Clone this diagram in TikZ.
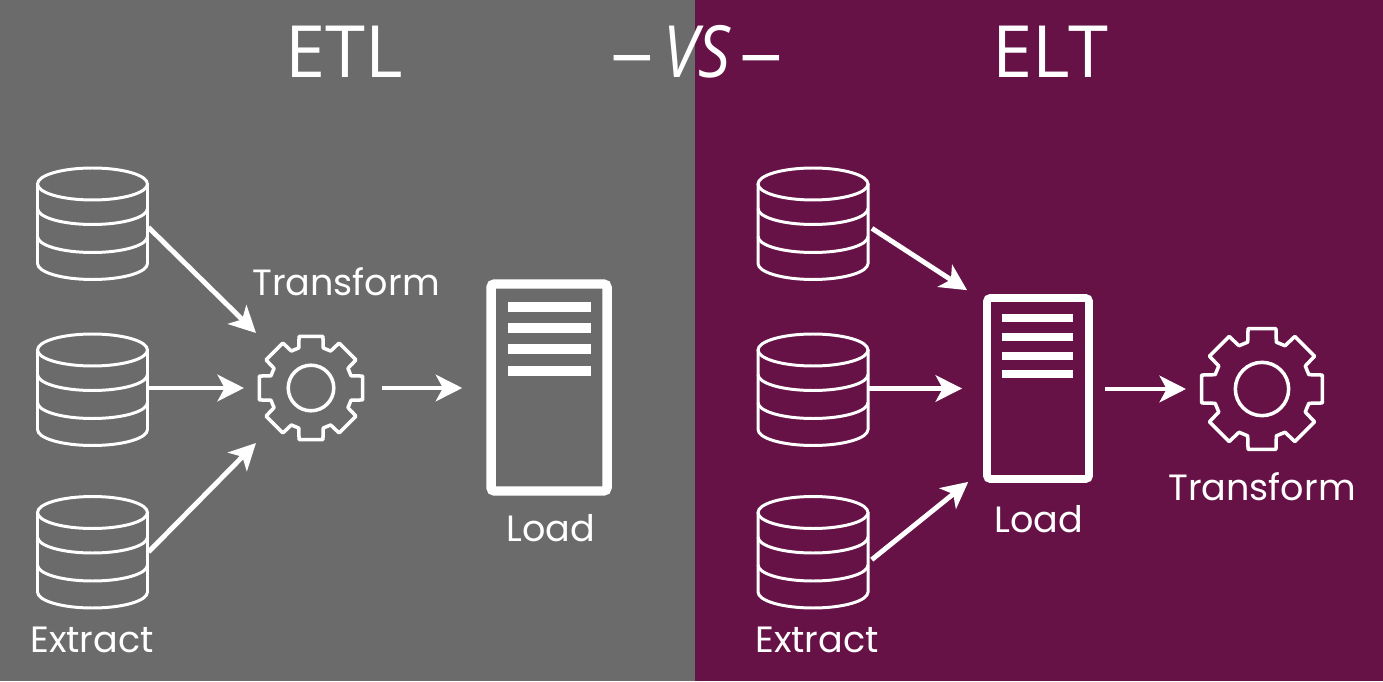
\documentclass[tikz,border=0pt]{standalone}
\usepackage{xcolor}
\usepackage{fontspec}
\usetikzlibrary{arrows.meta}
\setmainfont{Poppins}
\newfontfamily\titlefont{Open Sans}
\definecolor{etlgray}{HTML}{6B6B6B}
\definecolor{eltpurple}{HTML}{661246}
\tikzset{
	flow/.style={white,line width=2.8pt,-{Stealth[length=15pt,width=15pt,inset=4pt]}},
	dbbox/.style={minimum width=2.24cm,minimum height=2.22cm,inner sep=0pt,outer sep=0pt},
	gearbox/.style={minimum width=2.68cm,minimum height=2.2cm,inner sep=0pt,outer sep=0pt},
	serverbox/.style={draw=white,rounded corners=2pt,inner sep=0pt},
	serverbar/.style={white,line width=5.4pt},
	steplabel/.style={white,anchor=base,font=\fontsize{20.8}{21}\selectfont},
	bigtitle/.style={white,anchor=base,font=\titlefont\fontsize{41}{41}\selectfont},
	dbicon/.pic={
		\draw[white,line width=1.7pt] (0,0.395) ellipse [x radius=0.55,y radius=0.16];
		\draw[white,line width=1.7pt] (-0.55,0.395) -- (-0.55,-0.4) arc [start angle=180,end angle=360,x radius=0.55,y radius=0.16] -- (0.55,0.395);
		\draw[white,line width=1.7pt] (-0.55,0.15) arc [start angle=180,end angle=360,x radius=0.55,y radius=0.16];
		\draw[white,line width=1.7pt] (-0.55,-0.13) arc [start angle=180,end angle=360,x radius=0.55,y radius=0.16];
	},
	gearicon/.pic={
		\draw[white,line width=2pt,line join=round] (-13:1)
		\foreach \a in {0,45,...,315} { -- ({\a-13}:1) -- ({\a+13}:1) -- ({\a+17}:0.79) -- ({\a+28}:0.79) } -- cycle;
		\draw[white,line width=2pt] (0,0) circle (0.43);
	}
}
\begin{document}
\begin{tikzpicture}[scale=2]
	\useasboundingbox (0,0) rectangle (13.83,6.81);
	\fill[etlgray] (0,0) rectangle (6.95,6.81);
	\fill[eltpurple] (6.95,0) rectangle (13.83,6.81);
	% titles
	\node[bigtitle] (etltitle) at (3.44,6.03) {ETL};
	\node[bigtitle] (elttitle) at (10.5,6.03) {ELT};
	\node[bigtitle] (vstitle) at (6.97,6.03) {\scalebox{0.55}[1]{—}\hspace{6pt}\scalebox{0.88}[1]{\textit{VS}}\hspace{6pt}\scalebox{0.55}[1]{—}};
	% left side
	\node[dbbox] (dbA) at (0.925,4.575) {};
	\node[dbbox] (dbB) at (0.925,2.915) {};
	\node[dbbox] (dbC) at (0.925,1.29) {};
	\foreach \n in {dbA,dbB,dbC} \pic[scale=2] at (\n) {dbicon};
	\node[gearbox] (gearA) at (3.11,2.93) {};
	\pic[scale=1.06] at (gearA) {gearicon};
	\node[serverbox,line width=5.4pt,minimum width=2.32cm,minimum height=4.14cm] (serverA) at (5.49,2.935) {};
	\foreach \y in {3.74,3.53,3.32,3.1} \draw[serverbar] (5.08,\y) -- (5.91,\y);
	\draw[flow] (dbA.-4) -- (gearA.135);
	\draw[flow] (dbB.east |- gearA) -- (gearA.west);
	\draw[flow] (dbC.east) -- (gearA.225);
	\draw[flow,shorten <=2pt,shorten >=0.48cm] (gearA.east) -- (gearA.east -| serverA.west);
	\node[steplabel] (transformA) at (3.46,3.85) {Transform};
	\node[steplabel] (loadA) at (5.51,1.4) {Load};
	\node[steplabel] (extractA) at (0.92,0.29) {Extract};
	% right side
	\node[dbbox] (dbD) at (8.13,4.575) {};
	\node[dbbox] (dbE) at (8.13,2.915) {};
	\node[dbbox] (dbF) at (8.13,1.29) {};
	\foreach \n in {dbD,dbE,dbF} \pic[scale=2] at (\n) {dbicon};
	\node[serverbox,line width=4.5pt,minimum width=2.04cm,minimum height=3.62cm] (serverB) at (10.38,2.925) {};
	\foreach \y in {3.63,3.44,3.25,3.07} \draw[serverbar,line width=4.9pt] (10.02,\y) -- (10.73,\y);
	\node[gearbox,minimum width=3.04cm,minimum height=2.5cm] (gearB) at (12.62,2.92) {};
	\pic[scale=1.24] at (gearB) {gearicon};
	\draw[flow,shorten <=2pt,shorten >=0.38cm] (dbD.-3) -- (serverB.122);
	\draw[flow,shorten >=0.42cm] (dbE.east |- serverB) -- (serverB.west);
	\draw[flow,shorten <=2pt,shorten >=0.38cm] (dbF.-10) -- (serverB.236);
	\draw[flow,shorten <=0.24cm] (serverB.east |- gearB) -- (gearB.west);
	\node[steplabel] (loadB) at (10.39,1.49) {Load};
	\node[steplabel] (transformB) at (12.62,1.81) {Transform};
	\node[steplabel] (extractB) at (8.17,0.29) {Extract};
\end{tikzpicture}
\end{document}
